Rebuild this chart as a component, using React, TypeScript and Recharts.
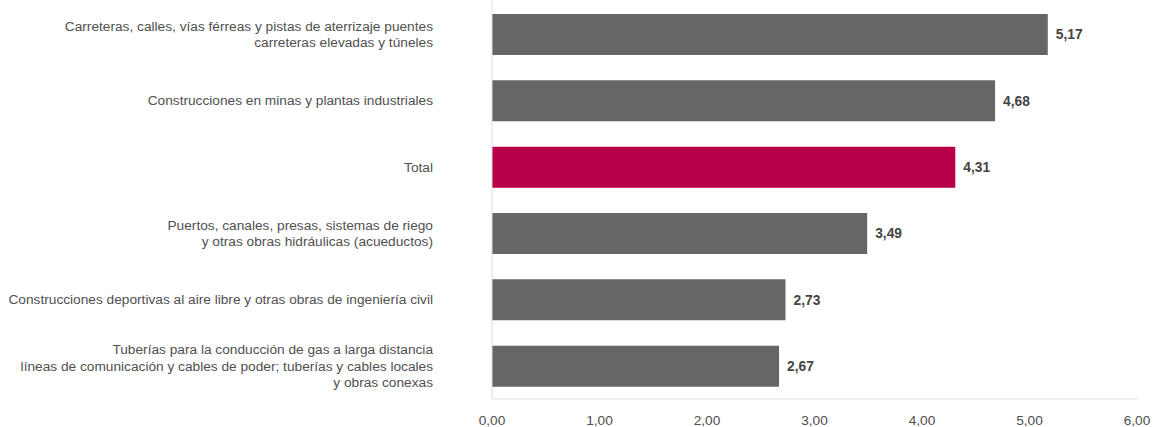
import { Bar, BarChart, Cell, LabelList, XAxis, YAxis } from "recharts";

const categories = [
	"Carreteras, calles, vías férreas y pistas de aterrizaje puentes\ncarreteras elevadas y túneles",
	"Construcciones en minas y plantas industriales",
	"Total",
	"Puertos, canales, presas, sistemas de riego\ny otras obras hidráulicas (acueductos)",
	"Construcciones deportivas al aire libre y otras obras de ingeniería civil",
	"Tuberías para la conducción de gas a larga distancia\nlíneas de comunicación y cables de poder; tuberías y cables locales\ny obras conexas",
];

const values = [5.17, 4.68, 4.31, 3.49, 2.73, 2.67];

const xTicks = [0, 1, 2, 3, 4, 5, 6];

const data = categories.map((name, i) => ({ name, value: values[i] }));

const FONT = '"Liberation Sans", Arial, sans-serif';
const fmt = (v: number) => v.toFixed(2).replace(".", ",");

const CategoryTick = ({ x, y, payload }: any) => {
	const lines = String(payload.value).split("\n");
	const lineHeight = 16.8;
	const start = -((lines.length - 1) * lineHeight) / 2;
	return (
		<text
			x={x}
			y={y}
			textAnchor="end"
			fill="#505050"
			fontSize={13.7}
			fontFamily={FONT}
		>
			{lines.map((line, i) => (
				<tspan key={i} x={x} y={y + start + i * lineHeight} dy="0.355em">
					{line}
				</tspan>
			))}
		</text>
	);
};

const App = () => {
	return (
		<div style={{ width: 1154, height: 427 }}>
			<style>{"body{margin:0}"}</style>
			<BarChart
				width={1154}
				height={427}
				data={data}
				layout="vertical"
				margin={{ top: 1, right: 17, left: 0, bottom: 0 }}
			>
				<XAxis
					type="number"
					domain={[0, 6]}
					ticks={xTicks}
					tickFormatter={fmt}
					axisLine={{ stroke: "#dddddd" }}
					tickLine={false}
					tickSize={0}
					tickMargin={16}
					height={28}
					tick={{ fill: "#505050", fontSize: 13.7, fontFamily: FONT }}
				/>
				<YAxis
					type="category"
					dataKey="name"
					width={492}
					axisLine={{ stroke: "#dddddd" }}
					tickLine={false}
					tickSize={0}
					tickMargin={59}
					interval={0}
					tick={<CategoryTick />}
				/>
				<Bar
					dataKey="value"
					barSize={41}
					isAnimationActive={false}
				>
					{data.map((d) => (
						<Cell
							key={d.name}
							fill={d.name === "Total" ? "#b8004a" : "#666666"}
						/>
					))}
					<LabelList
						dataKey="value"
						position="right"
						offset={8}
						formatter={(v: any) => fmt(Number(v))}
						fill="#444444"
						fontSize={13.8}
						fontWeight="bold"
						fontFamily={FONT}
					/>
				</Bar>
			</BarChart>
		</div>
	);
};

export default App;
